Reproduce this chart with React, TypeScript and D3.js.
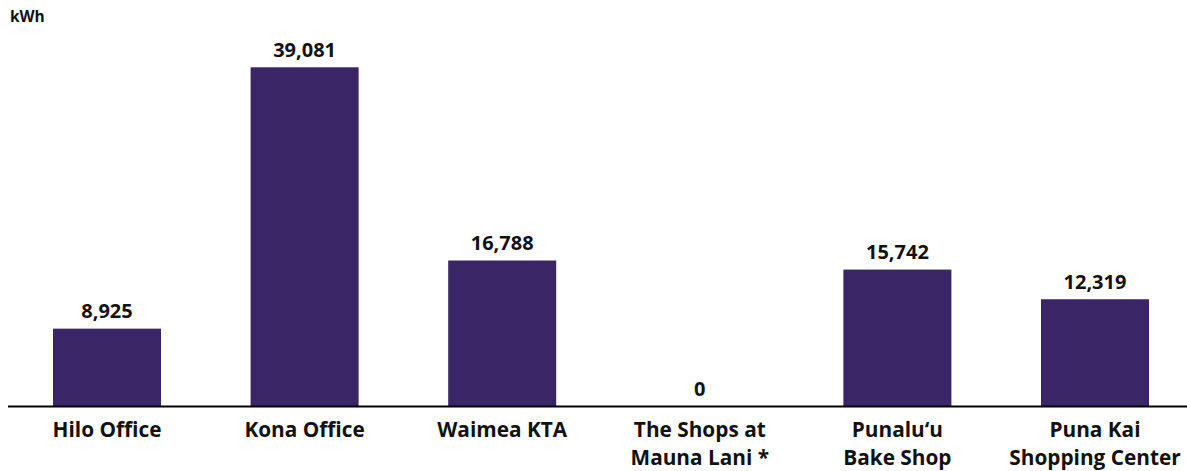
import React from "react";
import * as d3 from "d3";

const categories: string[][] = [
  ["Hilo Office"],
  ["Kona Office"],
  ["Waimea KTA"],
  ["The Shops at", "Mauna Lani *"],
  ["Punalu\u2018u", "Bake Shop"],
  ["Puna Kai", "Shopping Center"],
];
const values: number[] = [8925, 39081, 16788, 0, 15742, 12319];
const unitLabel = "kWh";

const W = 1187;
const H = 471;
const BAR = "#3a2566";
const FONT = "'Open Sans', sans-serif";

export default function App() {
  const keys = categories.map((c) => c.join(" "));
  const x = d3
    .scaleBand<string>()
    .domain(keys)
    .range([8.2, 1193.8])
    .paddingInner(0.4534)
    .paddingOuter(0.2267);
  const y = d3.scaleLinear().domain([0, 45000]).range([406, 16]);
  const fmt = d3.format(",");

  return (
    <svg
      width={W}
      height={H}
      style={{ position: "absolute", left: 0, top: 0, display: "block", background: "#fff" }}
    >
      <text x={10} y={21.5} fontFamily={FONT} fontWeight={700} fontSize={15.5} fill="#111">
        {unitLabel}
      </text>
      {values.map((v, i) => {
        const k = keys[i];
        const x0 = x(k)!;
        const bw = x.bandwidth();
        const yt = y(v);
        return (
          <g key={k}>
            {v > 0 && <rect x={x0} y={yt} width={bw} height={y(0) - yt} fill={BAR} />}
            <text
              x={x0 + bw / 2}
              y={yt - 10.5}
              textAnchor="middle"
              fontFamily={FONT}
              fontWeight={700}
              fontSize={20}
              fill="#111"
            >
              {fmt(v)}
            </text>
            {categories[i].map((line, j) => (
              <text
                key={j}
                x={x0 + bw / 2}
                y={437 + j * 28}
                textAnchor="middle"
                fontFamily={FONT}
                fontWeight={700}
                fontSize={20.8}
                fill="#111"
              >
                {line}
              </text>
            ))}
          </g>
        );
      })}
      <line x1={8} x2={W} y1={y(0) + 0.5} y2={y(0) + 0.5} stroke="#000" strokeWidth={2} />
    </svg>
  );
}
